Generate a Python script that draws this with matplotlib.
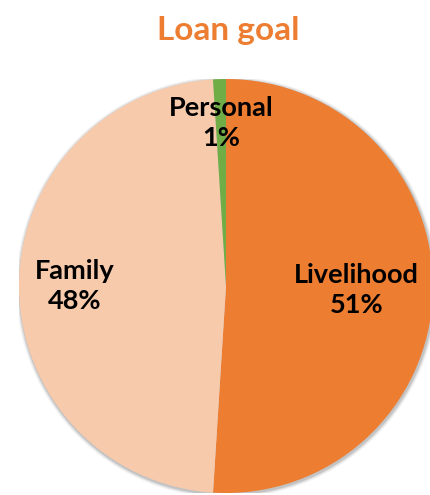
import numpy as np
import matplotlib.pyplot as plt
from matplotlib.patches import Circle

# Loan goal shares
labels = ["Livelihood", "Family", "Personal"]
shares = [51, 48, 1]
colors = ["#ED7D31", "#F7CAAC", "#70AD47"]
# how far out each label sits (fraction of radius)
label_dist = [0.63, 0.73, 0.79]

plt.rcParams["font.family"] = ["Lato", "DejaVu Sans"]

fig = plt.figure(figsize=(4.3, 4.95), dpi=100)
ax = fig.add_axes([0.0442, 0.004, 0.9628, 0.8364])

# soft shadow under the pie
for r, a in [(1.018, 0.05), (1.012, 0.08), (1.006, 0.12)]:
    ax.add_patch(Circle((0.004, -0.006), r, color="#000000", alpha=a, lw=0, zorder=0))

wedges, _ = ax.pie(
    shares,
    colors=colors,
    startangle=90,
    counterclock=False,
    radius=1,
    wedgeprops=dict(linewidth=0),
)

for w, lab, val, d in zip(wedges, labels, shares, label_dist):
    ang = np.deg2rad((w.theta1 + w.theta2) / 2)
    x, y = d * np.cos(ang), d * np.sin(ang)
    ax.text(x, y, f"{lab}\n{val}%", ha="center", va="center",
            fontsize=19.5, fontweight="bold", color="black", linespacing=1.3)

ax.set_xlim(-1, 1)
ax.set_ylim(-1, 1)
ax.set_aspect("auto")
ax.axis("off")

fig.text(0.53, 0.919, "Loan goal", ha="center", va="baseline",
         fontsize=24, fontweight="bold", color="#ED7D31")

fig.savefig("out.png", dpi=100)
